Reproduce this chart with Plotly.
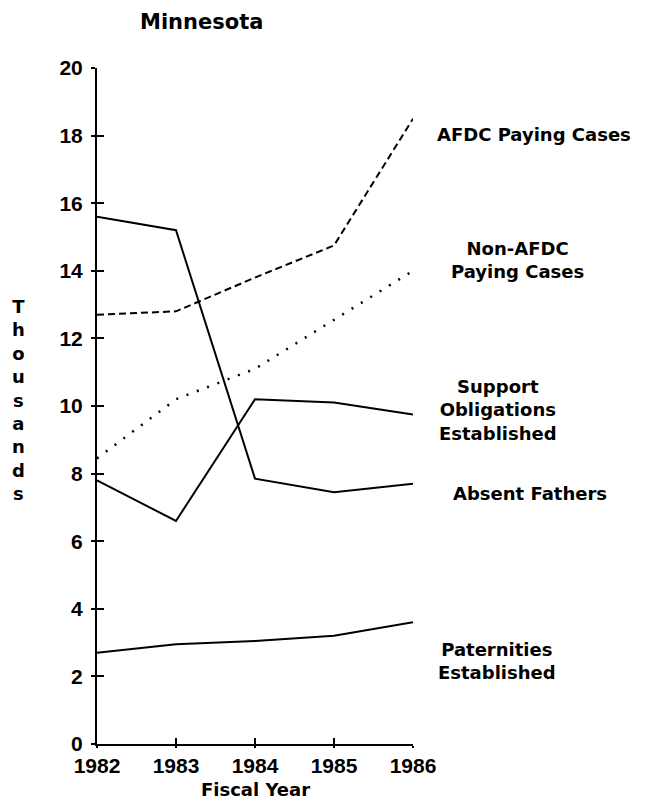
import plotly.graph_objects as go

years = [1982, 1983, 1984, 1985, 1986]

afdc_paying = [12.7, 12.8, 13.8, 14.75, 18.5]
non_afdc_paying = [8.45, 10.2, 11.1, 12.55, 14.0]
support_obligations = [7.8, 6.6, 10.2, 10.1, 9.75]
absent_fathers = [15.6, 15.2, 7.85, 7.45, 7.7]
paternities = [2.7, 2.95, 3.05, 3.2, 3.6]

y_ticks = [0, 2, 4, 6, 8, 10, 12, 14, 16, 18, 20]

FONT = "Liberation Sans"
LABEL_FONT = "DejaVu Sans"
ink = "black"

fig = go.Figure()

series = [
    (afdc_paying, dict(color=ink, width=2, dash="7px,4px")),
    (non_afdc_paying, dict(color=ink, width=2.5, dash="2px,9px")),
    (support_obligations, dict(color=ink, width=2)),
    (absent_fathers, dict(color=ink, width=2)),
    (paternities, dict(color=ink, width=2)),
]
for vals, line in series:
    fig.add_trace(go.Scatter(x=years, y=vals, mode="lines", line=line,
                             showlegend=False, hoverinfo="skip"))

# invisible trace so the overlay axes get drawn (crossing tick marks)
fig.add_trace(go.Scatter(x=[1982], y=[0], xaxis="x2", yaxis="y2", mode="markers",
                         marker=dict(opacity=0), showlegend=False, hoverinfo="skip"))

tick_font = dict(family=FONT, size=21, color=ink, weight="bold")

# page body has an 8px margin, so the figure is shifted by 8px
fig.update_layout(
    width=648, height=804,
    margin=dict(l=89, r=243, t=60, b=68),
    plot_bgcolor="white", paper_bgcolor="white",
    xaxis=dict(range=[1982, 1986], tickvals=years, ticks="outside", ticklen=2,
               tickwidth=2, tickcolor=ink, showline=True, linecolor=ink, linewidth=2,
               showgrid=False, zeroline=False, tickfont=tick_font),
    yaxis=dict(range=[0, 20], tickvals=y_ticks, ticks="outside", ticklen=4,
               tickwidth=2, tickcolor=ink, showline=True, linecolor=ink, linewidth=2,
               showgrid=False, zeroline=False, tickfont=tick_font,
               ticklabelstandoff=4),
    xaxis2=dict(range=[1982, 1986], tickvals=years, ticks="inside", ticklen=6,
                tickwidth=2, tickcolor=ink, overlaying="x", showticklabels=False,
                showgrid=False, zeroline=False, showline=False),
    yaxis2=dict(range=[0, 20], tickvals=y_ticks, ticks="inside", ticklen=7,
                tickwidth=2, tickcolor=ink, overlaying="y", showticklabels=False,
                showgrid=False, zeroline=False, showline=False),
)

label_font = dict(family=LABEL_FONT, size=18, color=ink, weight="bold")

annotations = [
    dict(text="Minnesota", x=0.33, y=1.068, xanchor="center",
         font=dict(family=LABEL_FONT, size=21, color=ink, weight="bold")),
    dict(text="Fiscal Year", x=0.5, y=-0.068, xanchor="center",
         font=dict(family=LABEL_FONT, size=18, color=ink, weight="bold")),
    dict(text="<br>".join("Thousands"), x=-0.25, y=0.509, xanchor="center",
         font=dict(family=LABEL_FONT, size=18, color=ink, weight="bold")),
    dict(text="AFDC Paying Cases", x=1.07, y=0.901, xanchor="left", font=label_font),
    dict(text="Non-AFDC<br>Paying Cases", x=1.332, y=0.716, xanchor="center", font=label_font),
    dict(text="Support<br>Obligations<br>Established", x=1.269, y=0.494, xanchor="center",
         font=label_font),
    dict(text="Absent Fathers", x=1.12, y=0.370, xanchor="left", font=label_font),
    dict(text="Paternities<br>Established", x=1.266, y=0.123, xanchor="center", font=label_font),
]
for a in annotations:
    fig.add_annotation(xref="paper", yref="paper", yanchor="middle", showarrow=False, **a)

fig.write_html("out.html")
